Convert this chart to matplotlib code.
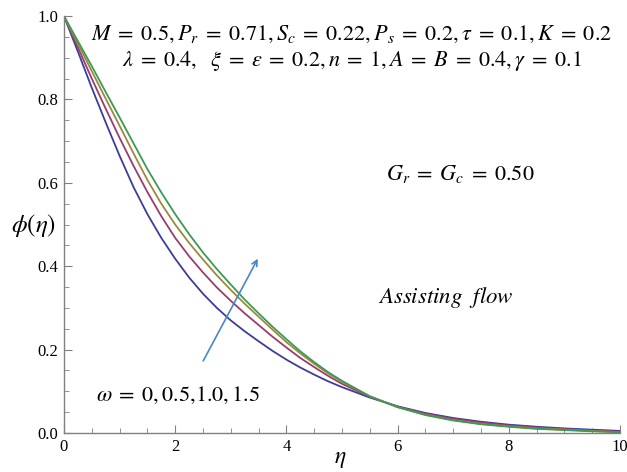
import matplotlib
matplotlib.use("Agg")
import matplotlib.pyplot as plt
from matplotlib.ticker import MultipleLocator, FormatStrFormatter

plt.rcParams['mathtext.fontset'] = 'stix'

eta = [0, 0.25, 0.5, 0.75, 1.0, 1.25, 1.5, 1.75, 2.0, 2.25, 2.5, 2.75, 3.0,
       3.25, 3.5, 3.75, 4.0, 4.25, 4.5, 4.75, 5.0, 5.5, 6.0,
       6.5, 7.0, 7.5, 8.0, 8.5, 9.0, 9.5, 10.0]
phi_w0 = [1.0, 0.915, 0.828, 0.745, 0.665, 0.59, 0.525, 0.468, 0.418, 0.373,
          0.334, 0.3, 0.27, 0.244, 0.22, 0.197, 0.176, 0.157, 0.14, 0.124,
          0.11, 0.085, 0.064, 0.048, 0.036, 0.027, 0.02, 0.015, 0.011, 0.008, 0.005]
phi_w05 = [1.0, 0.925, 0.85, 0.778, 0.708, 0.641, 0.578, 0.52, 0.468, 0.424,
           0.385, 0.349, 0.317, 0.287, 0.259, 0.231, 0.205, 0.18, 0.158, 0.137,
           0.118, 0.087, 0.063, 0.046, 0.034, 0.025, 0.018, 0.013, 0.009, 0.006, 0.003]
phi_w10 = [1.0, 0.934, 0.868, 0.802, 0.737, 0.671, 0.607, 0.55, 0.50, 0.456,
           0.416, 0.378, 0.343, 0.31, 0.279, 0.248, 0.218, 0.191, 0.166, 0.143,
           0.123, 0.088, 0.062, 0.044, 0.031, 0.022, 0.016, 0.011, 0.008, 0.005, 0.002]
phi_w15 = [1.0, 0.94, 0.88, 0.818, 0.757, 0.695, 0.633, 0.577, 0.525, 0.477,
           0.433, 0.393, 0.356, 0.32, 0.287, 0.255, 0.225, 0.196, 0.17, 0.146,
           0.125, 0.088, 0.062, 0.043, 0.030, 0.021, 0.015, 0.010, 0.007, 0.004, 0.002]
series = [phi_w0, phi_w05, phi_w10, phi_w15]
colors = ['#3d3d99', '#993d6b', '#998a3d', '#3d9954']

fig = plt.figure(figsize=(6.27, 4.72), dpi=100)
ax = fig.add_axes([0.102, 0.0826, 0.887, 0.8834])

for ys, c in zip(series, colors):
    ax.plot(eta, ys, color=c, lw=1.3)

ax.set_xlim(0, 10)
ax.set_ylim(0, 1.0)
ax.xaxis.set_major_locator(MultipleLocator(2))
ax.xaxis.set_minor_locator(MultipleLocator(0.5))
ax.yaxis.set_major_locator(MultipleLocator(0.2))
ax.yaxis.set_minor_locator(MultipleLocator(0.05))
ax.yaxis.set_major_formatter(FormatStrFormatter('%.1f'))
for s in ['top', 'right']:
    ax.spines[s].set_visible(False)
for s in ['left', 'bottom']:
    ax.spines[s].set_color('#808080')
    ax.spines[s].set_linewidth(1.0)
ax.tick_params(which='major', direction='in', length=6, color='#808080',
               labelsize=12, pad=4)
ax.tick_params(which='minor', direction='in', length=3.5, color='#808080')
for lab in ax.get_xticklabels() + ax.get_yticklabels():
    lab.set_fontfamily('Liberation Serif')

ax.annotate('', xy=(3.51, 0.424), xytext=(2.48, 0.167),
            arrowprops=dict(arrowstyle='->', color='#4a86c5', lw=1.2))

fs = 16
E = r"\;=\;"
ax.text(0.518, 0.955,
        r"$M" + E + r"0.5, P_r" + E + r"0.71, S_c" + E + r"0.22, P_s" + E +
        r"0.2, \tau" + E + r"0.1, K" + E + r"0.2$",
        transform=ax.transAxes, ha='center', va='center', fontsize=fs)
ax.text(0.518, 0.892,
        r"$\lambda" + E + r"0.4,\ \ \xi" + E + r"\varepsilon" + E + r"0.2, n" + E +
        r"1, A" + E + r"B" + E + r"0.4, \gamma" + E + r"0.1$",
        transform=ax.transAxes, ha='center', va='center', fontsize=fs)
ax.text(0.712, 0.621, r"$G_r" + E + r"G_c" + E + r"0.50$", transform=ax.transAxes,
        ha='center', va='center', fontsize=fs)
ax.text(0.687, 0.324, r"$Assisting\ \ flow$", transform=ax.transAxes,
        ha='center', va='center', fontsize=16.5)
ax.text(0.205, 0.091, r"$\omega" + E + r"0, 0.5{,}1.0, 1.5$", transform=ax.transAxes,
        ha='center', va='center', fontsize=fs)

fig.text(0.054, 0.523, r"$\phi(\eta)$", ha='center', va='center', fontsize=18)
fig.text(0.542, 0.030, r"$\eta$", ha='center', va='center', fontsize=17)

fig.savefig('out.png', dpi=100)
